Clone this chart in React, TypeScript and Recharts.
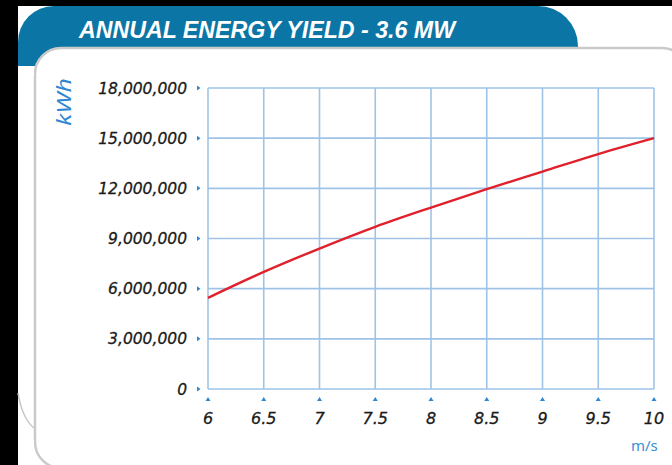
import React from "react";
import { LineChart, Line, XAxis, YAxis, CartesianGrid } from "recharts";

// wind speed (m/s) and annual yield (kWh)
const windSpeeds = [6, 6.5, 7, 7.5, 8, 8.5, 9, 9.5, 10];
const annualYield = [5450000, 7000000, 8400000, 9700000, 10850000, 11950000, 13000000, 14050000, 15000000];
const yTicks = [0, 3000000, 6000000, 9000000, 12000000, 15000000, 18000000];
const xTicks = [6, 6.5, 7, 7.5, 8, 8.5, 9, 9.5, 10];

const data = windSpeeds.map((s, i) => ({ speed: s, kwh: annualYield[i] }));

const TAB_BLUE = "#0b76a5";
const GRID = "#9fc3e7";
const MARK = "#2f86d1";
const TICK_FONT = "'DejaVu Sans', 'Noto Sans', sans-serif";

const YTick = (props: any) => {
  const { x, y, payload } = props;
  return (
    <g>
      <polygon points={`${x - 11},${y - 2.5} ${x - 11},${y + 2.5} ${x - 7.5},${y}`} fill={MARK} />
      <text
        x={x - 21}
        y={y + 5.5}
        textAnchor="end"
        fontFamily={TICK_FONT}
        fontStyle="italic"
        fontSize={15.5}
        fill="#1a1a1a"
        stroke="#1a1a1a"
        strokeWidth={0.3}
      >
        {Number(payload.value).toLocaleString("en-US")}
      </text>
    </g>
  );
};

const XTick = (props: any) => {
  const { x, y, payload } = props;
  return (
    <g>
      <polygon points={`${x - 2.5},${y + 12} ${x + 2.5},${y + 12} ${x},${y + 8}`} fill={MARK} />
      <text
        x={x}
        y={y + 35}
        textAnchor="middle"
        fontFamily={TICK_FONT}
        fontStyle="italic"
        fontSize={16}
        fill="#1a1a1a"
        stroke="#1a1a1a"
        strokeWidth={0.3}
      >
        {payload.value}
      </text>
    </g>
  );
};

export default function App() {
  return (
    <div
      style={{
        position: "absolute",
        top: 0,
        left: 0,
        width: 672,
        height: 465,
        overflow: "hidden",
        background: "#fff",
      }}
    >
      <svg width={672} height={465} style={{ position: "absolute", top: 0, left: 0 }}>
        <rect x={0} y={0} width={672} height={465} fill="#ffffff" />
        <path d="M18,65 L18,42 A36,36 0 0 1 54,6 L538,6 A40,40 0 0 1 578,46 L578,66 L18,66 Z" fill={TAB_BLUE} />
        <rect x={35} y={48} width={653} height={420} rx={26} fill="#fff" stroke="#cacaca" strokeWidth={2.5} />
        <text
          x={79}
          y={38}
          fontFamily="'Liberation Sans Narrow', 'Liberation Sans', Arial, sans-serif"
          fontWeight="bold"
          fontStyle="italic"
          fontSize={24}
          fill="#fff"
          textLength={376}
          lengthAdjust="spacingAndGlyphs"
        >
          ANNUAL ENERGY YIELD - 3.6 MW
        </text>
        <text
          x={0}
          y={0}
          transform="translate(71,102) rotate(-90)"
          textAnchor="middle"
          fontFamily="'Noto Sans', sans-serif"
          fontStyle="italic"
          fontSize={19}
          fill={MARK}
          textLength={48}
          lengthAdjust="spacingAndGlyphs"
        >
          kWh
        </text>
        <text x={631} y={451} fontFamily="'Noto Sans', sans-serif" fontSize={15} fill="#3a8fd6">
          m/s
        </text>
      </svg>
      <div style={{ position: "absolute", top: 0, left: 0 }}>
        <LineChart width={672} height={465} data={data} margin={{ top: 88, right: 18, bottom: 0, left: 0 }}>
          <CartesianGrid stroke={GRID} strokeWidth={1.6} />
          <XAxis
            dataKey="speed"
            type="number"
            domain={[6, 10]}
            ticks={xTicks}
            height={76}
            axisLine={false}
            tickLine={false}
            tickSize={0}
            tickMargin={0}
            tick={<XTick />}
            interval={0}
          />
          <YAxis
            type="number"
            domain={[0, 18000000]}
            ticks={yTicks}
            width={208}
            axisLine={false}
            tickLine={false}
            tickSize={0}
            tickMargin={0}
            tick={<YTick />}
            interval={0}
          />
          <Line
            type="monotone"
            dataKey="kwh"
            stroke="#e0212b"
            strokeWidth={2.4}
            dot={false}
            isAnimationActive={false}
          />
        </LineChart>
      </div>
      {/* frame pieces kept above the chart layer */}
      <svg
        width={36}
        height={465}
        style={{ position: "absolute", top: 0, left: 0, pointerEvents: "none" }}
      >
        <rect x={18} y={66} width={16} height={399} fill="#ffffff" />
        <rect x={0} y={0} width={36} height={6} fill="#000" />
        <rect x={0} y={0} width={18} height={465} fill="#000" />
        <path d="M18,393 Q22,418 34,428" stroke="#c6c6c6" strokeWidth={1.5} fill="none" />
        <line x1={35} y1={76} x2={35} y2={440} stroke="#cacaca" strokeWidth={2.5} />
      </svg>
      <svg
        width={672}
        height={6}
        style={{ position: "absolute", top: 0, left: 0, pointerEvents: "none" }}
      >
        <rect x={0} y={0} width={672} height={6} fill="#000" />
      </svg>
    </div>
  );
}
